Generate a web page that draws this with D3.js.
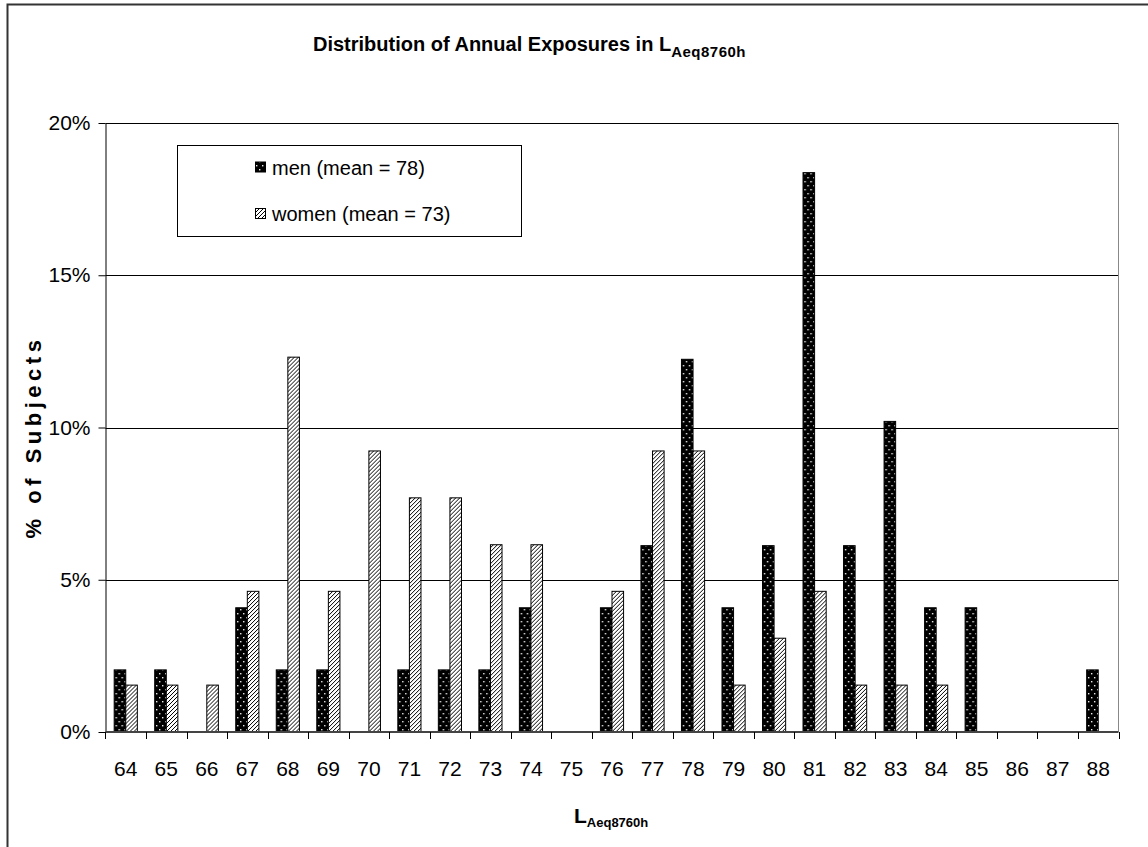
<!DOCTYPE html>
<html>
<head>
<meta charset="utf-8">
<script src="https://cdn.jsdelivr.net/npm/d3@7"></script>
<style>
  html, body { margin: 0; padding: 0; background: #fff; }
  svg { display: block; font-family: "Liberation Sans", Arial, sans-serif; }
</style>
</head>
<body>
<svg id="chart" width="1148" height="847"></svg>
<script>
// Exposure levels (dB) on the category axis
const categories = ["64","65","66","67","68","69","70","71","72","73","74","75","76",
                    "77","78","79","80","81","82","83","84","85","86","87","88"];
// Share of subjects (%) per exposure level
const menPct   = [2.04, 2.04, 0, 4.08, 2.04, 2.04, 0, 2.04, 2.04, 2.04, 4.08, 0, 4.08,
                  6.12, 12.24, 4.08, 6.12, 18.37, 6.12, 10.20, 4.08, 4.08, 0, 0, 2.04];
const womenPct = [1.54, 1.54, 1.54, 4.62, 12.31, 4.62, 9.23, 7.69, 7.69, 6.15, 6.15, 0, 4.62,
                  9.23, 9.23, 1.54, 3.08, 4.62, 1.54, 1.54, 1.54, 0, 0, 0, 0];
const seriesNames = ["men (mean = 78)", "women (mean = 73)"];
const yTicks = [0, 5, 10, 15, 20];

const svg = d3.select("#chart");
const plot = { left: 105.5, right: 1118.5, top: 123, bottom: 732 };

// Fill patterns: white dots on black for men, diagonal hatch for women
const defs = svg.append("defs");
const dots = defs.append("pattern").attr("id", "dots")
  .attr("patternUnits", "userSpaceOnUse").attr("width", 6).attr("height", 8);
dots.append("rect").attr("width", 6).attr("height", 8).attr("fill", "#000");
dots.append("rect").attr("x", 1).attr("y", 1).attr("width", 1.4).attr("height", 1.4).attr("fill", "#eee");
dots.append("rect").attr("x", 4).attr("y", 5).attr("width", 1.4).attr("height", 1.4).attr("fill", "#eee");

const hatch = defs.append("pattern").attr("id", "hatch")
  .attr("patternUnits", "userSpaceOnUse").attr("width", 4).attr("height", 4);
hatch.append("rect").attr("width", 4).attr("height", 4).attr("fill", "#fff");
hatch.append("path").attr("d", "M-1,1 L1,-1 M0,4 L4,0 M3,5 L5,3")
  .attr("stroke", "#000").attr("stroke-width", 1);

const fills = ["url(#dots)", "url(#hatch)"];

// Outer chart frame
svg.append("rect").attr("x", 7.5).attr("y", 4.5).attr("width", 1200).attr("height", 900)
  .attr("fill", "none").attr("stroke", "#333").attr("stroke-width", 2);

// Scales
const x = d3.scaleBand().domain(categories).range([plot.left, plot.right]).paddingInner(0).paddingOuter(0);
const xs = d3.scaleBand().domain([0, 1]).range([0, x.bandwidth()]).paddingInner(0).paddingOuter(0.75);
const y = d3.scaleLinear().domain([0, 20]).range([plot.bottom, plot.top]);

// Gridlines
svg.append("g").selectAll("line").data(yTicks.filter(d => d > 0)).join("line")
  .attr("x1", plot.left).attr("x2", plot.right)
  .attr("y1", d => Math.round(y(d)) + 0.5).attr("y2", d => Math.round(y(d)) + 0.5)
  .attr("stroke", "#000").attr("stroke-width", 1);

// Right border of the plot area
svg.append("line").attr("x1", plot.right).attr("x2", plot.right)
  .attr("y1", plot.top).attr("y2", plot.bottom).attr("stroke", "#888");

// Bars
const rows = categories.map((c, i) => ({ cat: c, vals: [menPct[i], womenPct[i]] }));
const groups = svg.append("g").selectAll("g").data(rows).join("g")
  .attr("transform", d => `translate(${x(d.cat)},0)`);
groups.selectAll("rect")
  .data(d => d.vals.map((v, s) => ({ v, s })).filter(e => e.v > 0))
  .join("rect")
  .attr("x", d => xs(d.s))
  .attr("y", d => y(d.v))
  .attr("width", xs.bandwidth())
  .attr("height", d => y(0) - y(d.v))
  .attr("fill", d => fills[d.s])
  .attr("stroke", "#000").attr("stroke-width", 1);

// Y axis
const yAxis = svg.append("g").attr("transform", `translate(${plot.left},0)`)
  .call(d3.axisLeft(y).tickValues(yTicks).tickFormat(d => d + "%").tickSize(7).tickSizeOuter(0).tickPadding(8));
yAxis.selectAll("text").attr("font-size", 21).attr("fill", "#000")
  .attr("font-family", "'Liberation Sans', Arial, sans-serif");
yAxis.select(".domain").attr("stroke", "#000");
yAxis.selectAll(".tick line").attr("stroke", "#000");

// X axis labels centred in each band
const xAxis = svg.append("g").attr("transform", `translate(0,${plot.bottom})`)
  .call(d3.axisBottom(x).tickSize(0).tickPadding(29));
xAxis.select(".domain").remove();
xAxis.selectAll("text").attr("font-size", 21).attr("fill", "#000")
  .attr("font-family", "'Liberation Sans', Arial, sans-serif");

// X axis line and tick marks between categories
svg.append("line").attr("x1", plot.left).attr("x2", plot.right)
  .attr("y1", plot.bottom).attr("y2", plot.bottom)
  .attr("stroke", "#444").attr("stroke-width", 2);
const bounds = categories.map(c => x(c)).concat([plot.right]);
svg.append("g").selectAll("line").data(bounds).join("line")
  .attr("x1", d => Math.round(d) + 0.5).attr("x2", d => Math.round(d) + 0.5)
  .attr("y1", plot.bottom).attr("y2", plot.bottom + 7)
  .attr("stroke", "#000");

// Title
const title = svg.append("text").attr("x", 313).attr("y", 51)
  .attr("font-size", 20).attr("font-weight", "bold").attr("fill", "#000");
title.append("tspan").text("Distribution of Annual Exposures in L");
title.append("tspan").attr("font-size", 15).attr("dy", 6).attr("letter-spacing", 0.5).text("Aeq8760h");

// X axis title
const xTitle = svg.append("text").attr("x", 574).attr("y", 823)
  .attr("font-size", 21).attr("font-weight", "bold").attr("fill", "#000");
xTitle.append("tspan").text("L");
xTitle.append("tspan").attr("font-size", 13).attr("dy", 4).text("Aeq8760h");

// Y axis title
svg.append("text")
  .attr("transform", "translate(41,437) rotate(-90)")
  .attr("text-anchor", "middle")
  .attr("font-size", 22).attr("font-weight", "bold").attr("letter-spacing", 4.5)
  .attr("fill", "#000")
  .text("% of Subjects");

// Legend
const legend = svg.append("g");
legend.append("rect").attr("x", 177.5).attr("y", 145.5).attr("width", 344).attr("height", 91)
  .attr("fill", "#fff").attr("stroke", "#000");
const legendY = [167.5, 214];
seriesNames.forEach((name, i) => {
  legend.append("rect").attr("x", 255.5).attr("y", legendY[i] - 5.5)
    .attr("width", 10).attr("height", 10)
    .attr("fill", fills[i]).attr("stroke", "#000");
  legend.append("text").attr("x", 272).attr("y", legendY[i]).attr("dy", "0.35em")
    .attr("font-size", 20).attr("fill", "#000").text(name);
});
</script>
</body>
</html>
